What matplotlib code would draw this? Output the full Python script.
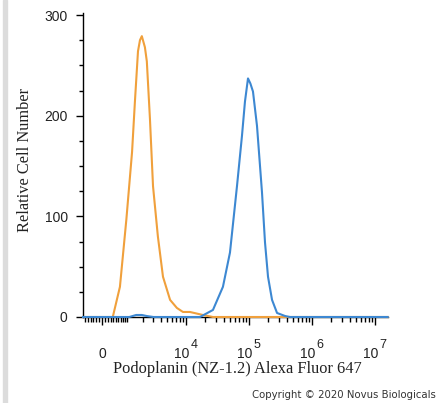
#!/usr/bin/env python3
import numpy as np
import matplotlib
matplotlib.use('Agg')
import matplotlib.pyplot as plt
from matplotlib.patches import Rectangle
from matplotlib.transforms import offset_copy

# fluorescence values (biexponential axis) and relative cell counts
orange_x = [-700, 380, 660, 950, 1250, 1420, 1620, 1760, 1900, 2150, 2320, 2620, 2950,
            3550, 4300, 5600, 7200, 9000, 11600, 18700, 27000, 16000000]
orange_y = [0, 0, 30, 97, 164, 214, 264, 275, 279, 268, 254, 197, 130,
            80, 40, 17, 9, 5, 5, 2, 0, 0]

blue_x = [-700, 1100, 1500, 1900, 2300, 3000, 16800, 27000, 38900, 50300, 65000, 78000,
          87000, 97200, 106000, 116600, 135000, 162000, 181000, 202000, 234000,
          281000, 376000, 450000, 16000000]
blue_y = [0, 0, 2, 2, 1, 0, 0, 7, 30, 64, 130, 180,
          214, 237, 232, 224, 190, 124, 74, 40, 17,
          4, 1, 0, 0]

major_ticks = [0, 1e4, 1e5, 1e6, 1e7]
major_base = ['0', '10', '10', '10', '10']
major_exp = ['', '4', '5', '6', '7']

W = 935.0


def fwd(x):
    return np.arcsinh(np.asarray(x) / W) / np.log(10)


def inv(y):
    return W * np.sinh(np.asarray(y) * np.log(10))


plt.rcParams['font.family'] = 'Liberation Sans'

fig = plt.figure(figsize=(4.38, 4.03), dpi=100)
fig.patches.append(Rectangle((3 / 438, 0), 4 / 438, 1, transform=fig.transFigure,
                             color='#dcdcdc', zorder=0))

ax = fig.add_axes([83 / 438, 86 / 403, 305 / 438, 304 / 403])
ax.set_xscale('function', functions=(fwd, inv))
ax.set_xlim(-700, 1.62e7)
ax.set_ylim(0, 302)

ax.plot(orange_x, orange_y, color='#f0a03c', lw=1.5, clip_on=False, zorder=3)
ax.plot(blue_x, blue_y, color='#3d88d2', lw=1.5, clip_on=False, zorder=4)

for s in ['top', 'right']:
    ax.spines[s].set_visible(False)
ax.spines['left'].set_linewidth(1.0)
ax.spines['bottom'].set_linewidth(1.0)

# x ticks
minor = [v for v in range(-600, 1000, 100) if v != 0]
for e in range(3, 7):
    minor += [k * 10 ** e for k in range(1, 10) if not (k == 1 and e > 3)]
ax.set_xticks(major_ticks)
ax.set_xticklabels([''] * len(major_ticks))
ax.set_xticks(minor, minor=True)
ax.tick_params(axis='x', which='major', length=6, width=1, direction='out')
ax.tick_params(axis='x', which='minor', length=3.5, width=1, direction='out')
xt = ax.get_xaxis_transform()
for v, b, p in zip(major_ticks, major_base, major_exp):
    if p:
        ax.text(v, -0.135, b, transform=offset_copy(xt, fig=fig, x=4, y=0, units='dots'),
                ha='right', va='baseline', fontsize=10, color='#222222')
        ax.text(v, -0.135, p, transform=offset_copy(xt, fig=fig, x=5, y=10, units='dots'),
                ha='left', va='baseline', fontsize=9, color='#222222')
    else:
        ax.text(v, -0.135, b, transform=xt, ha='center', va='baseline',
                fontsize=10, color='#222222')

# y ticks
ax.set_yticks([0, 100, 200, 300])
ax.set_yticks(np.arange(25, 300, 25), minor=True)
ax.tick_params(axis='y', which='major', length=5, width=1, labelsize=10,
               pad=6, labelcolor='#222222')
ax.tick_params(axis='y', which='minor', length=3, width=1)

fig.text(237 / 438, 1 - 373 / 403, 'Podoplanin (NZ-1.2) Alexa Fluor 647',
         ha='center', va='baseline', fontsize=11.8, family='Liberation Serif',
         color='#222222')
fig.text(25 / 438, 1 - 159.5 / 403, 'Relative Cell Number', rotation=90,
         ha='center', va='center', fontsize=11.8, family='Liberation Serif',
         color='#222222')
fig.text(436 / 438, 1 - 398 / 403, 'Copyright \u00a9 2020 Novus Biologicals',
         ha='right', va='baseline', fontsize=7.3, family='DejaVu Sans',
         color='#333333')

fig.savefig('out.png', dpi=100)
